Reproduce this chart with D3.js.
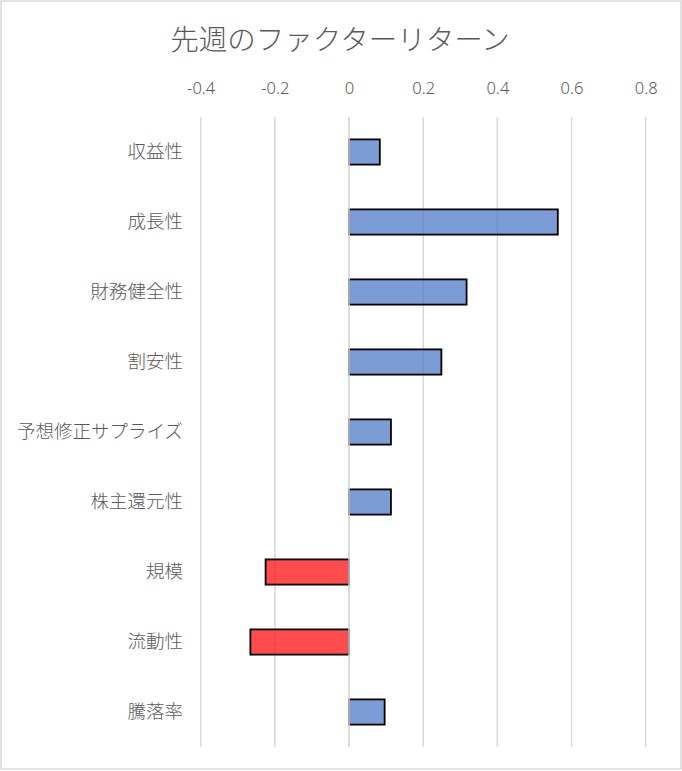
<!DOCTYPE html>
<html><head><meta charset="utf-8">
<script src="https://cdn.jsdelivr.net/npm/d3@7"></script>
<style>body{margin:0;background:#fff}svg{display:block}text{font-family:"Noto Sans CJK JP","Noto Sans",sans-serif}</style>
</head><body><svg id="c" width="682" height="771"></svg>
<script>
const categories = ["収益性","成長性","財務健全性","割安性","予想修正サプライズ","株主還元性","規模","流動性","騰落率"];
const values = [0.083, 0.563, 0.317, 0.249, 0.113, 0.113, -0.225, -0.266, 0.096];
const ticks = [-0.4, -0.2, 0, 0.2, 0.4, 0.6, 0.8];
const tickLabels = ["-0.4","-0.2","0","0.2","0.4","0.6","0.8"];
const title = "先週のファクターリターン";

const svg = d3.select("#c");
svg.append("rect").attr("x",1).attr("y",1).attr("width",680).attr("height",768)
  .attr("fill","#fff").attr("stroke","#d9d9d9").attr("stroke-width",1.5);

const x = d3.scaleLinear().domain([-0.4,0.8]).range([200.7,645.7]);
const y = d3.scaleBand().domain(categories).range([117,747]).paddingInner(0.64).paddingOuter(0.32);

svg.append("text").attr("x",340).attr("y",50).attr("text-anchor","middle")
  .attr("font-size",28.5).attr("font-weight",300).attr("fill","#595959").text(title);

const g = svg.append("g");
g.selectAll("line.grid").data(ticks).join("line").attr("class","grid")
  .attr("x1",d=>x(d)).attr("x2",d=>x(d)).attr("y1",117).attr("y2",747)
  .attr("stroke","#d9d9d9").attr("stroke-width",1.5);

const xAxis = d3.axisTop(x).tickValues(ticks).tickSize(0).tickFormat((d,i)=>tickLabels[i]);
const ax = svg.append("g").attr("transform","translate(0,91)").call(xAxis);
ax.select(".domain").remove();
ax.selectAll("text").attr("font-size",16.5).attr("font-weight",300).attr("fill","#595959").attr("dy","0.35em")
  .style("font-family","'Noto Sans','Noto Sans CJK JP',sans-serif");

const bars = g.selectAll("g.bar").data(categories.map((c,i)=>({c,v:values[i]}))).join("g");
bars.append("rect")
  .attr("x",d=>x(Math.min(0,d.v))).attr("y",d=>y(d.c))
  .attr("width",d=>Math.abs(x(d.v)-x(0))).attr("height",y.bandwidth())
  .attr("fill",d=>d.v<0?"#ff0000":"#4472c4").attr("fill-opacity",0.7)
  .attr("stroke","#000").attr("stroke-width",1.8);

g.append("line").attr("x1",x(0)).attr("x2",x(0)).attr("y1",117).attr("y2",747)
  .attr("stroke","#d9d9d9").attr("stroke-width",1.5);

const yAxis = d3.axisLeft(y).tickSize(0);
const ay = svg.append("g").attr("transform","translate(183,0)").call(yAxis);
ay.select(".domain").remove();
ay.selectAll("text").attr("font-size",18.5).attr("font-weight",300).attr("fill","#595959").attr("x",0);
</script></body></html>
